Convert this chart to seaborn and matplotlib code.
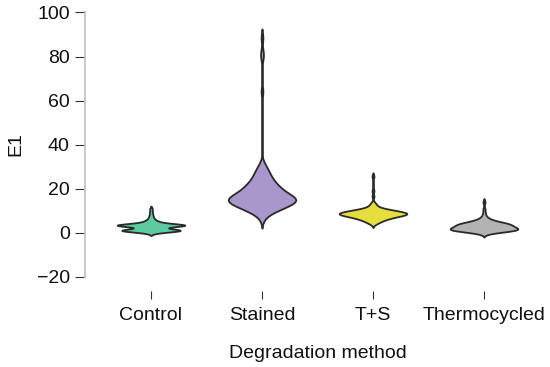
import numpy as np
import pandas as pd
import matplotlib
matplotlib.use("Agg")
import matplotlib.pyplot as plt
import seaborn as sns

categories = ["Control", "Stained", "T+S", "Thermocycled"]
colors = ["#5dcaa0", "#a996cb", "#e6de3e", "#b3b3b3"]
y_ticks = [-20, 0, 20, 40, 60, 80, 100]

control = [-0.2, 0.0, 0.2, 0.3, 0.4, 0.5, 0.6, 0.6, 0.7, 0.7, 0.8, 0.8, 0.9, 0.9, 0.9,
           1.0, 1.0, 1.0, 1.1, 1.1, 1.1, 1.2, 1.2, 1.3, 1.3, 1.4, 1.4, 1.5, 1.6, 1.8,
           2.3, 2.5, 2.6, 2.7, 2.8, 2.9, 2.9, 3.0, 3.0, 3.1, 3.1, 3.1, 3.2, 3.2, 3.2,
           3.3, 3.3, 3.3, 3.3, 3.4, 3.4, 3.4, 3.5, 3.5, 3.5, 3.6, 3.6, 3.7, 3.7, 3.8,
           3.9, 4.0, 4.1, 4.2, 4.4, 4.6, 4.8, 5.0, 5.3, 5.6,
           6.0, 6.6, 7.3, 8.2, 9.4, 10.8]
stained = [6.0, 7.4, 8.4, 8.9, 9.3, 9.7,
           10.0, 10.2, 10.4, 10.6, 10.8, 11.0, 11.2, 11.4, 11.6, 11.8,
           12.0, 12.1, 12.3, 12.4, 12.6, 12.7, 12.9, 13.0, 13.2, 13.3, 13.5, 13.6,
           13.7, 13.8, 13.9, 14.0,
           14.1, 14.2, 14.3, 14.4, 14.5, 14.6, 14.7, 14.8, 14.9, 15.0, 15.1, 15.2,
           15.4, 15.5, 15.6, 15.7, 15.8, 15.9,
           16.0, 16.2, 16.3, 16.5, 16.6, 16.8, 16.9, 17.1, 17.2, 17.4, 17.5, 17.7,
           17.8, 17.9,
           18.1, 18.3, 18.6, 18.8, 19.0, 19.2, 19.4, 19.6, 19.8, 19.9,
           20.2, 20.5, 20.8, 21.0, 21.3, 21.5, 21.7, 21.9,
           22.3, 22.6, 23.0, 23.3, 23.6, 23.9,
           24.4, 24.9, 25.4, 25.8, 26.3, 26.8, 27.3, 27.8, 28.5, 29.4, 30.4, 31.3,
           64.0, 79.5, 82.0, 88.5]
t_s = [3.9, 4.3, 4.6, 4.9, 5.1, 5.3, 5.5, 5.7, 5.9,
       6.0, 6.1, 6.2, 6.4, 6.5, 6.6, 6.7, 6.8, 6.9,
       7.0, 7.1, 7.2, 7.2, 7.3, 7.4, 7.5, 7.5, 7.6, 7.7, 7.7, 7.8, 7.9, 7.9,
       8.0, 8.0, 8.1, 8.1, 8.2, 8.2, 8.3, 8.3, 8.4, 8.4, 8.5, 8.5, 8.6, 8.6, 8.7,
       8.7, 8.8, 8.8, 8.9, 8.9,
       9.0, 9.0, 9.1, 9.1, 9.2, 9.2, 9.3, 9.4, 9.4, 9.5, 9.6, 9.6, 9.7, 9.8, 9.9, 9.9,
       10.0, 10.1, 10.2, 10.3, 10.4, 10.5, 10.6, 10.7, 10.9,
       11.2, 11.5, 11.9, 12.4, 12.9, 13.6,
       16.5, 19.0, 25.5]
thermo = [-0.4, -0.1,
          0.1, 0.2, 0.3, 0.4, 0.5, 0.6, 0.6, 0.7, 0.8, 0.8, 0.9, 0.9,
          1.0, 1.0, 1.1, 1.1, 1.2, 1.2, 1.3, 1.3, 1.4, 1.4, 1.5, 1.5, 1.6, 1.6, 1.7,
          1.7, 1.8, 1.8, 1.9, 1.9,
          2.0, 2.1, 2.2, 2.2, 2.3, 2.4, 2.5, 2.5, 2.6, 2.7, 2.8, 2.8, 2.9, 2.9, 2.95,
          3.0, 3.1, 3.2, 3.3, 3.4, 3.4, 3.5, 3.6, 3.7, 3.8, 3.8, 3.9, 3.9, 3.95,
          4.0, 4.1, 4.2, 4.3, 4.4, 4.5, 4.6, 4.7, 4.8, 4.9,
          5.1, 5.3, 5.5, 5.7, 5.9, 6.3, 6.8, 7.5,
          8.8, 10.6, 13.8]
group_values = [control, stained, t_s, thermo]
bandwidths = [0.6, 2.0, 0.8, 0.8]

sns.set_theme(style="white")
plt.rcParams["font.family"] = ["Liberation Sans", "DejaVu Sans"]

fig = plt.figure(figsize=(5.5, 3.67), dpi=100)
ax = fig.add_axes([95.5 / 550, (367 - 276.5) / 367, 444 / 550, 264 / 367])

for cat, vals, col, bw in zip(categories, group_values, colors, bandwidths):
    df = pd.DataFrame({"Degradation method": cat, "E1": vals})
    sns.violinplot(data=df, x="Degradation method", y="E1", order=categories,
                   color=col, inner=None, density_norm="width", width=0.61,
                   bw_method=bw / np.std(vals, ddof=1), cut=2,
                   linewidth=1.3, linecolor="#2a2a2a", saturation=1, ax=ax)

ax.set_xlim(-0.5, 3.5)
ax.set_ylim(-20, 100)
ax.set_yticks(y_ticks)
ax.set_yticklabels([str(t).replace("-", "\u2212") for t in y_ticks])

for s in ["top", "right", "bottom"]:
    ax.spines[s].set_visible(False)
ax.spines["left"].set_position(("outward", 7.6))
ax.spines["left"].set_color("#c4c4c4")
ax.spines["left"].set_linewidth(1.3)
ax.spines["bottom"].set_position(("outward", 10.5))

ax.tick_params(axis="y", left=True, length=7, width=0.8, color="#333333",
               labelsize=14, pad=4, labelcolor="#111111")
ax.tick_params(axis="x", bottom=True, length=5.5, width=0.8, color="#333333",
               labelsize=14, pad=6, labelcolor="#111111")
ax.set_xlabel("Degradation method", fontsize=14, color="#111111", labelpad=15)
ax.set_ylabel("E1", fontsize=14, color="#111111", labelpad=9)

fig.savefig("out.png", dpi=100)
